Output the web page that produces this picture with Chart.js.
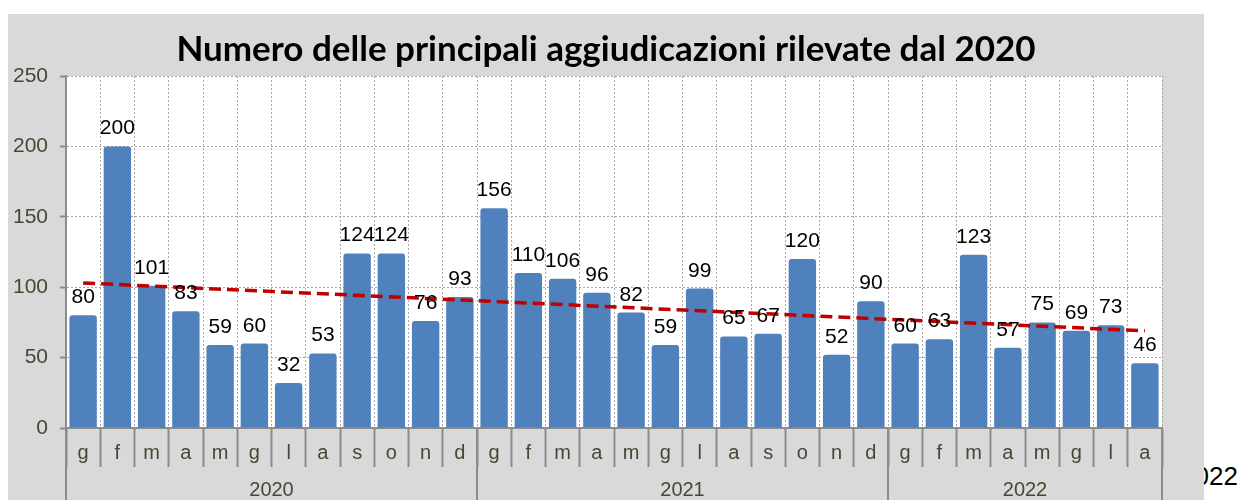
<!DOCTYPE html>
<html>
<head>
<meta charset="utf-8">
<script src="https://cdn.jsdelivr.net/npm/chart.js@4.4.0/dist/chart.umd.min.js"></script>
<style>
  html, body { margin: 0; padding: 0; background: #fff; width: 1237px; height: 500px; overflow: hidden; }
  #panel { position: absolute; left: 8px; top: 14px; width: 1196px; height: 486px; background: #d9d9d9; z-index: 1; }
  #stray { position: absolute; left: 1180px; top: 461px; font: 26px "Liberation Sans", Arial, sans-serif; color: #000; z-index: 0; }
</style>
</head>
<body>
<div id="stray">2022</div>
<div id="panel"><canvas id="chart" width="1196" height="486"></canvas></div>
<script>
// months (g f m a m g l a s o n d) per year
const months = [
  'g','f','m','a','m','g','l','a','s','o','n','d',
  'g','f','m','a','m','g','l','a','s','o','n','d',
  'g','f','m','a','m','g','l','a'
];
const years = ['2020', '2021', '2022'];
const monthsPerYear = [12, 12, 8];

const awards = [
  80, 200, 101, 83, 59, 60, 32, 53, 124, 124, 76, 93,
  156, 110, 106, 96, 82, 59, 99, 65, 67, 120, 52, 90,
  60, 63, 123, 57, 75, 69, 73, 46
];

// trend line, read at first and last month
const trendFirst = 103;
const trendLast = 69;

const axisColor = '#8c8c8c';
const labelColor = '#4a4636';
const font = '"Liberation Sans", Arial, sans-serif';

const trend = awards.map(() => null);
trend[0] = trendFirst;
trend[trend.length - 1] = trendLast;

const plotBackground = {
    id: 'plotBackground',
    beforeDraw(chart) {
        const a = chart.chartArea;
        chart.ctx.save();
        chart.ctx.fillStyle = '#ffffff';
        chart.ctx.fillRect(a.left, a.top, a.right - a.left, a.bottom - a.top);
        chart.ctx.restore();
    }
};

const barValues = {
    id: 'barValues',
    afterDatasetsDraw(chart) {
        const ctx = chart.ctx;
        const meta = chart.getDatasetMeta(1);
        ctx.save();
        ctx.font = '21px ' + font;
        ctx.fillStyle = '#000';
        ctx.textAlign = 'center';
        ctx.textBaseline = 'alphabetic';
        meta.data.forEach((bar, i) => {
            ctx.fillText(String(awards[i]), bar.x, bar.y - 12);
        });
        ctx.restore();
    }
};

const yearRow = {
    id: 'yearRow',
    afterDraw(chart) {
        const ctx = chart.ctx;
        const x = chart.scales.x;
        ctx.save();
        ctx.strokeStyle = axisColor;
        ctx.lineWidth = 2;
        ctx.fillStyle = labelColor;
        ctx.font = '20px ' + font;
        ctx.textAlign = 'center';
        ctx.textBaseline = 'middle';
        let start = 0;
        const edges = [x.getPixelForValue(-0.5)];
        years.forEach((yr, i) => {
            const end = start + monthsPerYear[i];
            const l = x.getPixelForValue(start - 0.5);
            const r = x.getPixelForValue(end - 0.5);
            edges.push(r);
            ctx.fillText(yr, (l + r) / 2, chart.height - 10);
            start = end;
        });
        edges.forEach(px => {
            ctx.beginPath();
            ctx.moveTo(px, x.top);
            ctx.lineTo(px, chart.height);
            ctx.stroke();
        });
        ctx.restore();
    }
};

new Chart(document.getElementById('chart'), {
    data: {
        labels: months,
        datasets: [
            {
                type: 'line',
                data: trend,
                spanGaps: true,
                borderColor: '#c00000',
                borderWidth: 3.5,
                borderDash: [12, 6],
                pointRadius: 0,
                order: 0
            },
            {
                type: 'bar',
                data: awards,
                backgroundColor: '#4f81bd',
                borderRadius: 3,
                barPercentage: 0.8,
                categoryPercentage: 1,
                order: 1
            }
        ]
    },
    options: {
        responsive: false,
        animation: false,
        layout: { padding: 0 },
        plugins: {
            legend: { display: false },
            tooltip: { enabled: false },
            title: {
                display: true,
                text: 'Numero delle principali aggiudicazioni rilevate dal 2020',
                color: '#000',
                font: { family: 'Lato, "Open Sans", sans-serif', size: 35, weight: 'bold' },
                padding: { top: 15, bottom: 5 }
            }
        },
        scales: {
            x: {
                offset: true,
                grid: {
                    offset: true,
                    color: '#a6a6a6',
                    tickColor: axisColor,
                    tickWidth: 2,
                    tickBorderDash: [],
                    tickLength: 39
                },
                border: { color: axisColor, width: 2, dash: [2, 2] },
                ticks: {
                    color: labelColor,
                    font: { family: font, size: 20 },
                    padding: -26,
                    autoSkip: false,
                    maxRotation: 0
                },
                afterFit(scale) { scale.height = 72; }
            },
            y: {
                min: 0,
                max: 250,
                grid: {
                    color: '#a6a6a6',
                    tickColor: axisColor,
                    tickWidth: 2,
                    tickBorderDash: [],
                    tickLength: 6
                },
                border: { color: axisColor, width: 2, dash: [2, 2] },
                ticks: {
                    stepSize: 50,
                    color: labelColor,
                    font: { family: font, size: 21 },
                    padding: 12
                },
                afterFit(scale) { scale.width = 58; }
            },
            // empty right margin so the title stays centred on the panel
            yRight: {
                position: 'right',
                grid: { display: false },
                border: { display: false },
                ticks: { display: false },
                afterFit(scale) { scale.width = 42; }
            }
        }
    },
    plugins: [plotBackground, barValues, yearRow]
});
</script>
</body>
</html>
